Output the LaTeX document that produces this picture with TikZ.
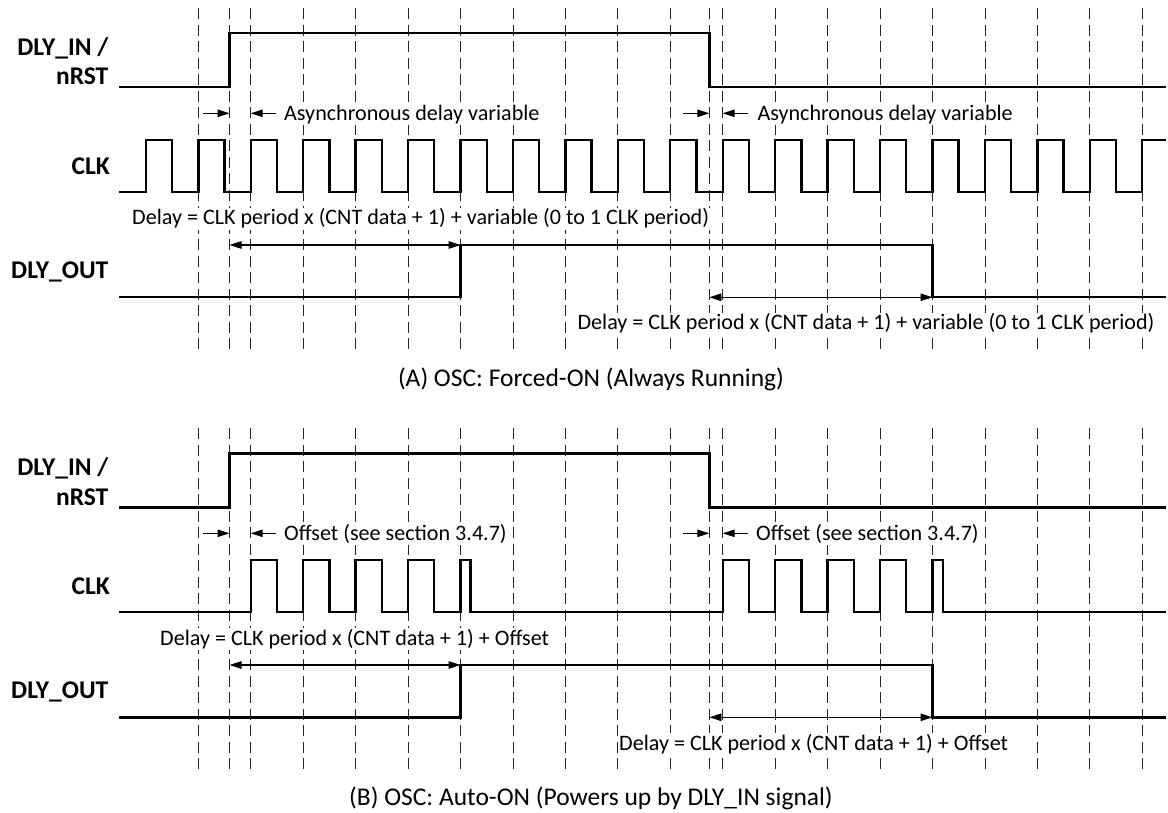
\documentclass[tikz,border=0pt]{standalone}
\usepackage{fontspec}
\setmainfont{Carlito}
\usetikzlibrary{arrows.meta}
\begin{document}
\begin{tikzpicture}[x=1pt,y=-1pt,
  wave/.style={line width=2.4pt, line join=miter},
  gridline/.style={line width=0.8pt, dash pattern=on 11pt off 5.5pt, black!85},
  dimarrow/.style={line width=1.1pt, -{Triangle[length=12pt,width=7.5pt]}},
  ddimarrow/.style={line width=1.1pt, {Triangle[length=12pt,width=7.5pt]}-{Triangle[length=12pt,width=7.5pt]}},
  lbl/.style={font=\fontsize{25.5}{30}\selectfont\bfseries, anchor=base east, inner sep=0pt},
  txt/.style={font=\fontsize{22.1}{26}\selectfont, anchor=base west, inner sep=1pt, fill=white},
  captxt/.style={font=\fontsize{25.5}{30}\selectfont, anchor=base, inner sep=0pt}]
\useasboundingbox (0,0) rectangle (1168,813);
\fill[white] (0,0) rectangle (1168,813);

% dashed grid lines
\foreach \o in {0,420} {
  \foreach \k in {0,...,18}
    \draw[gridline] ({198.3+52.44*\k},{8.3+\o}) -- ++(0,341);
  \draw[gridline] (229.5,{8.3+\o}) -- ++(0,341);
  \draw[gridline] (709.3,{8.3+\o}) -- ++(0,341);
}

% texts (white background, over the grid)
\node[txt] (async1) at (283,120.7) {Asynchronous delay variable};
\node[txt] (async2) at (756.3,120.7) {Asynchronous delay variable};
\node[txt] (dlyA1) at (131,225) {Delay = CLK period x (CNT data + 1) + variable (0 to 1 CLK period)};
\node[txt] (dlyA2) at (576.4,330) {Delay = CLK period x (CNT data + 1) + variable (0 to 1 CLK period)};
\node[txt] (offs1) at (283,540.7) {Offset (see section 3.4.7)};
\node[txt] (offs2) at (755,540.7) {Offset (see section 3.4.7)};
\node[txt] (dlyB1) at (159,645) {Delay = CLK period x (CNT data + 1) + Offset};
\node[txt] (dlyB2) at (618,750) {Delay = CLK period x (CNT data + 1) + Offset};
\node[captxt] (capA) at (591,386) {(A) OSC: Forced-ON (Always Running)};
\node[captxt] (capB) at (591,805.5) {(B) OSC: Auto-ON (Powers up by DLY\_IN signal)};

% common parts of both sections
\foreach \o in {0,420} {
  \node[lbl] (lin\o) at (108.5,{55.5+\o}) {DLY\_IN /};
  \node[lbl] (lrst\o) at (108.5,{85+\o}) {nRST};
  \node[lbl] (lclk\o) at (110,{174.5+\o}) {CLK};
  \node[lbl] (lout\o) at (108.5,{278.5+\o}) {DLY\_OUT};
  % DLY_IN
  \draw[wave] (119,{87.3+\o}) -| (229.5,{33.3+\o}) -| (709.3,{87.3+\o}) -- (1166,{87.3+\o});
  % DLY_OUT
  \draw[wave] (119,{297.3+\o}) -| (460.5,{245+\o}) -| (932.5,{297.3+\o}) -- (1166,{297.3+\o});
  % small arrows
  \coordinate (p1s\o) at (203,{113.3+\o});   \coordinate (p1e\o) at (229.5,{113.3+\o});
  \coordinate (p2s\o) at (276,{113.3+\o});   \coordinate (p2e\o) at (250.74,{113.3+\o});
  \coordinate (p3s\o) at (683,{113.3+\o});   \coordinate (p3e\o) at (709.3,{113.3+\o});
  \coordinate (p4s\o) at (748,{113.3+\o});   \coordinate (p4e\o) at (722.7,{113.3+\o});
  \draw[dimarrow] (p1s\o) -- (p1e\o);
  \draw[dimarrow] (p2s\o) -- (p2e\o);
  \draw[dimarrow] (p3s\o) -- (p3e\o);
  \draw[dimarrow] (p4s\o) -- (p4e\o);
  % delay arrows
  \coordinate (d1s\o) at (229.5,{245+\o});  \coordinate (d1e\o) at (460.5,{245+\o});
  \coordinate (d2s\o) at (709.3,{297.3+\o}); \coordinate (d2e\o) at (932.5,{297.3+\o});
  \draw[ddimarrow] (d1s\o) -- (d1e\o);
  \draw[ddimarrow] (d2s\o) -- (d2e\o);
}

% top CLK (always running)
\draw[wave] (119,192) foreach \k in {-1,...,17} { -| ({198.3+52.44*\k},140) -| ({224.52+52.44*\k},192) } -| (1142.2,140) -- (1166,140);

% bottom CLK (bursts)
\draw[wave] (119,612) foreach \k in {1,...,4} { -| ({198.3+52.44*\k},560) -| ({224.52+52.44*\k},612) }
  -| (460.5,560) -| (470.5,612)
  foreach \k in {10,...,13} { -| ({198.3+52.44*\k},560) -| ({224.52+52.44*\k},612) }
  -| (932.5,560) -| (943,612) -- (1166,612);
\end{tikzpicture}
\end{document}
